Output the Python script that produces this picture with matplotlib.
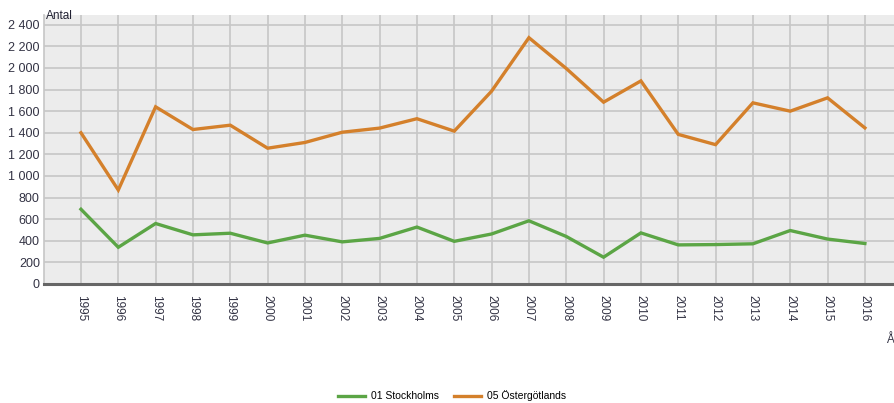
import matplotlib
matplotlib.use("Agg")
import matplotlib.pyplot as plt
from matplotlib.ticker import FuncFormatter

years = list(range(1995, 2017))
stockholm = [692, 340, 560, 455, 470, 380, 452, 390, 422, 527, 395, 463, 585, 440,
             248, 473, 362, 365, 372, 495, 416, 375]
ostergotland = [1400, 870, 1640, 1430, 1470, 1257, 1310, 1405, 1443, 1530, 1415, 1785,
                2280, 1995, 1683, 1880, 1385, 1290, 1677, 1600, 1723, 1445]
series_names = ["01 Stockholms", "05 Östergötlands"]
y_ticks = list(range(0, 2401, 200))

W, H = 894, 403
fig = plt.figure(figsize=(W / 100, H / 100), dpi=100)
ax = fig.add_axes([44 / W, 1 - 284 / H, (W - 44) / W, (284 - 15) / H])
ax.set_facecolor("#ececec")

ax.plot(years, stockholm, color="#5ba545", lw=2.4, label=series_names[0],
        solid_joinstyle="miter")
ax.plot(years, ostergotland, color="#d4802b", lw=2.4, label=series_names[1],
        solid_joinstyle="miter")

ax.set_xlim(1994.01, 2016.78)
ax.set_ylim(0, 2490)
ax.set_xticks(years)
ax.set_xticklabels([str(y) for y in years], rotation=270, fontsize=8.5,
                   color="#333344", family="Liberation Sans")
ax.set_yticks(y_ticks)
ax.yaxis.set_major_formatter(FuncFormatter(lambda v, p: f"{int(v):,}".replace(",", " ")))
for lab in ax.get_yticklabels():
    lab.set_fontsize(9)
    lab.set_color("#333344")
    lab.set_family("Liberation Sans")
ax.tick_params(axis="both", length=0, pad=3)
ax.tick_params(axis="x", pad=8)

ax.grid(True, color="#c6c6c6", lw=1.2)
ax.set_axisbelow(True)
for s in ["top", "right"]:
    ax.spines[s].set_visible(False)
ax.spines["left"].set_color("#c6c6c6")
ax.spines["left"].set_linewidth(1.2)
ax.spines["bottom"].set_color("#666666")
ax.spines["bottom"].set_linewidth(2.2)

fig.text(46 / W, 1 - 16 / H, "Antal", fontsize=8.5, color="#222233",
         va="center", ha="left", family="Liberation Sans")
fig.text(886 / W, 1 - 340 / H, "År", fontsize=8.5, color="#333344",
         va="center", ha="left", family="Liberation Sans")

leg = fig.legend(loc="center", bbox_to_anchor=(452 / W, 1 - 396 / H), ncol=2,
                 frameon=False, fontsize=7.5, handlelength=2.6, columnspacing=1.5,
                 handletextpad=0.5, prop={"family": "Liberation Sans", "size": 7.5})

fig.savefig("out.png", dpi=100)
